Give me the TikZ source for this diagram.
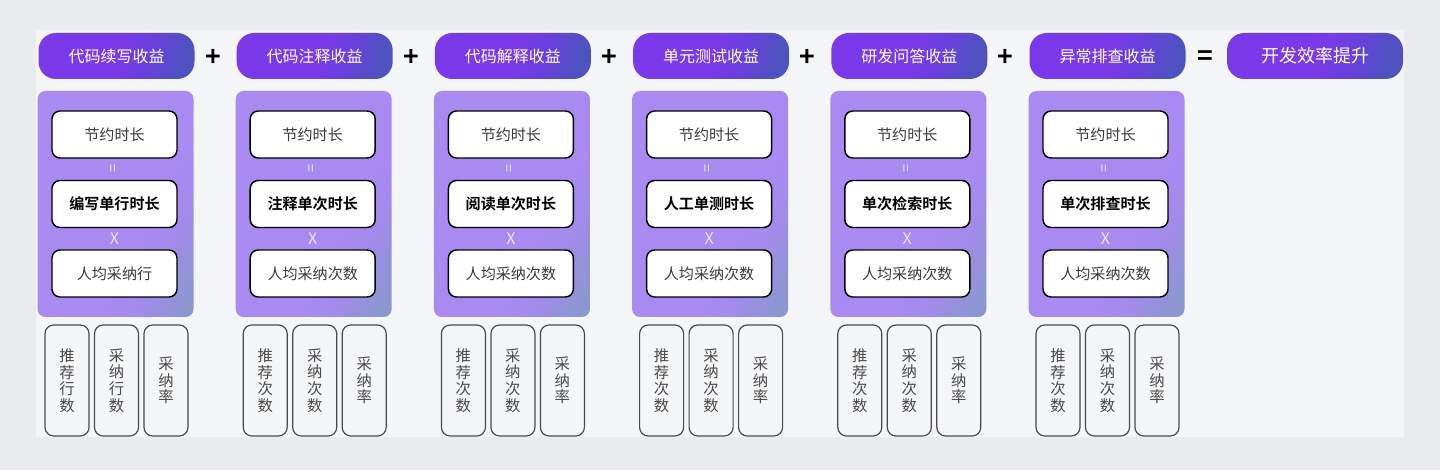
\documentclass[tikz,border=0pt]{standalone}
\usepackage{fontspec}
\setmainfont{Noto Sans CJK SC}[BoldFont={Noto Sans CJK SC Bold}]
\definecolor{outerbg}{HTML}{E9ECEF}
\definecolor{innerbg}{HTML}{F4F5F7}
\definecolor{hdrA}{HTML}{7A3AE9}
\definecolor{hdrB}{HTML}{6A3FDE}
\definecolor{hdrC}{HTML}{4E53C0}
\definecolor{panA}{HTML}{A88AF0}
\definecolor{panB}{HTML}{A08BE8}
\definecolor{panC}{HTML}{8C97D0}
\definecolor{txtgray}{HTML}{3A3A3A}
\definecolor{boxgray}{HTML}{4A4A4A}
\definecolor{sym}{HTML}{EDE6FF}
\pgfdeclarehorizontalshading{hdrsh}{100bp}{color(0bp)=(hdrA); color(50bp)=(hdrA); color(62bp)=(hdrB); color(75bp)=(hdrC); color(100bp)=(hdrC)}
\pgfdeclareverticalshading{pansh}{100bp}{color(0bp)=(panC); color(20bp)=(panC); color(30bp)=(panB); color(38bp)=(panA); color(100bp)=(panA)}
\tikzset{
  hdr/.style={shading=hdrsh, shading angle=-15,
    rounded corners=13pt, minimum width=117pt, minimum height=34.5pt, inner sep=0pt,
    text=white, font=\fontsize{12}{14}\selectfont},
  final/.style={hdr, minimum width=132pt, font=\fontsize{13.5}{15}\selectfont},
  panel/.style={shading=pansh, shading angle=62,
    rounded corners=6pt, minimum width=117pt, minimum height=169.5pt, inner sep=0pt},
  wbox/.style={draw=black, fill=white, line width=1.1pt, rounded corners=6pt,
    minimum width=93.75pt, minimum height=35.25pt, inner sep=0pt, text=txtgray,
    font=\fontsize{11.3}{13}\selectfont},
  wbold/.style={wbox, text=black, font=\fontsize{11.3}{13}\selectfont\bfseries},
  bbox/.style={draw=boxgray, fill=innerbg, line width=0.9pt, rounded corners=6.5pt,
    minimum width=33pt, minimum height=83.25pt, inner sep=0pt, text=boxgray, align=center,
    font=\fontsize{11.5}{12.4}\selectfont},
  opsym/.style={font=\fontsize{20}{20}\selectfont\bfseries, text=black, inner sep=0pt},
  smallsym/.style={text=sym, inner sep=0pt, font=\fontsize{11}{12}\selectfont}
}
\begin{document}
\begin{tikzpicture}[x=0.75pt,y=-0.75pt]
\useasboundingbox (0,0) rectangle (1440,470);
\fill[outerbg] (0,0) rectangle (1440,470);
\fill[innerbg] (36,30) rectangle (1404,437);
\foreach \i/\h/\b/\c/\p/\q in {
  1/代码续写收益/编写单行时长/人均采纳行/{推\\荐\\行\\数}/{采\\纳\\行\\数},
  2/代码注释收益/注释单次时长/人均采纳次数/{推\\荐\\次\\数}/{采\\纳\\次\\数},
  3/代码解释收益/阅读单次时长/人均采纳次数/{推\\荐\\次\\数}/{采\\纳\\次\\数},
  4/单元测试收益/人工单测时长/人均采纳次数/{推\\荐\\次\\数}/{采\\纳\\次\\数},
  5/研发问答收益/单次检索时长/人均采纳次数/{推\\荐\\次\\数}/{采\\纳\\次\\数},
  6/异常排查收益/单次排查时长/人均采纳次数/{推\\荐\\次\\数}/{采\\纳\\次\\数}}{
  \pgfmathsetmacro{\o}{(\i-1)*198.2}
  \node[hdr] (h\i) at (116.5+\o,56) {\h};
  \node[panel] (p\i) at (115.5+\o,204) {};
  \node[wbox] (t\i) at (114.5+\o,134.5) {节约时长};
  \node[wbold] (m\i) at (114.5+\o,204) {\b};
  \node[wbox] (n\i) at (114.5+\o,273.5) {\c};
  \node[smallsym, rotate=90] (e\i) at (114.5+\o,168.5) {=};
  \node[smallsym, font=\fontsize{12}{13}\selectfont] (x\i) at (114.5+\o,239) {X};
  \node[bbox] (ra\i) at (67+\o,380.5) {\p};
  \node[bbox] (rb\i) at (116.5+\o,380.5) {\q};
  \node[bbox] (rc\i) at (166+\o,380.5) {采\\纳\\率};
}
\foreach \i in {1,...,5}{
  \pgfmathsetmacro{\o}{(\i-1)*198.2}
  \node[opsym] (plus\i) at (213+\o,58) {+};
}
\node[opsym] (eq) at (1205,58) {=};
\node[final] (res) at (1315,56) {开发效率提升};
\end{tikzpicture}
\end{document}
